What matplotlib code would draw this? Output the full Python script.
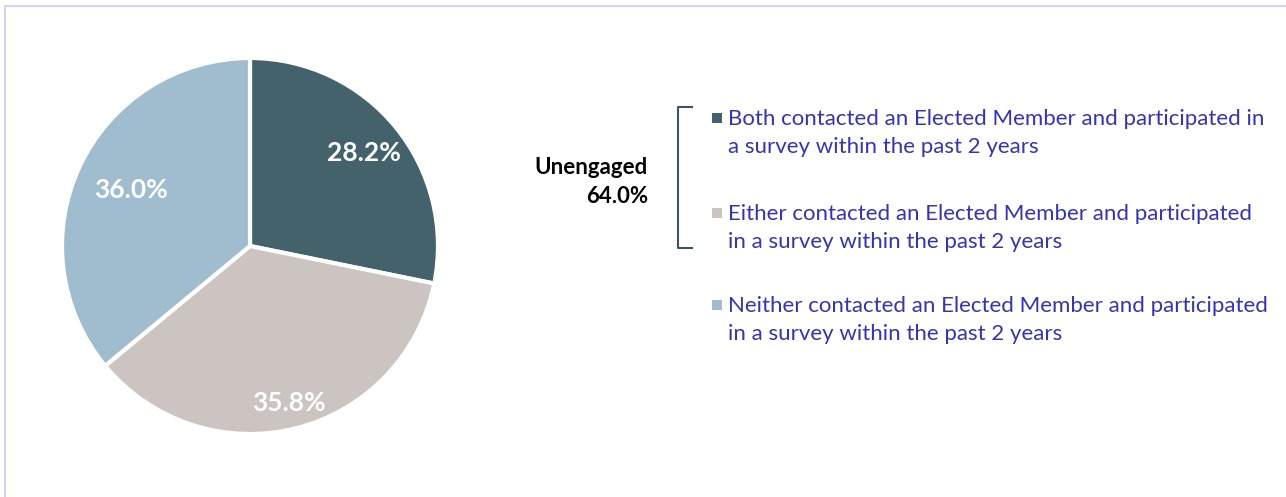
import numpy as np
import matplotlib
matplotlib.use("Agg")
import matplotlib.pyplot as plt

# data
labels = [
    "Both contacted an Elected Member and participated in\na survey within the past 2 years",
    "Either contacted an Elected Member and participated\nin a survey within the past 2 years",
    "Neither contacted an Elected Member and participated\nin a survey within the past 2 years",
]
shares = [28.2, 35.8, 36.0]
colors = ["#44626b", "#cbc4c1", "#a0bdd0"]
group_name = "Unengaged"
group_share = 64.0

plt.rcParams['font.family'] = ['Lato', 'DejaVu Sans']

W, H = 1286, 497
fig = plt.figure(figsize=(W / 100, H / 100), dpi=100)

# pie axes, centre (250, 246) px, radius 188 px
cx, cy, r = 250, 246, 188
ax = fig.add_axes([(cx - r) / W, (H - cy - r) / H, 2 * r / W, 2 * r / H])
wedges, _ = ax.pie(shares, colors=colors, startangle=90, counterclock=False,
                   wedgeprops=dict(edgecolor="white", linewidth=3))
ax.set_xlim(-1, 1)
ax.set_ylim(-1, 1)
ax.set_aspect("equal")
ax.axis("off")

# percent labels at different radii, like the original
label_r = [0.78, 0.86, 0.70]
for w, s, lr in zip(wedges, shares, label_r):
    ang = np.deg2rad((w.theta1 + w.theta2) / 2)
    ax.text(lr * np.cos(ang), lr * np.sin(ang), f"{s:.1f}%", ha="center", va="center",
            color="white", fontsize=19, fontweight="bold")

# overlay in pixel coords for legend, bracket and frame
ov = fig.add_axes([0, 0, 1, 1], zorder=-1)
ov.set_xlim(0, W)
ov.set_ylim(H, 0)
ov.axis("off")
ov.patch.set_alpha(0)

# light frame (top and left only)
ov.plot([5, 5, W], [H, 6, 6], color="#d4d4f4", lw=1.5, solid_joinstyle="miter")

text_y = [133, 228, 320]
for c, lab, y in zip(colors, labels, text_y):
    ov.scatter([716.5], [y - 15], marker="s", s=45, color=c, linewidths=0)
    ov.text(728, y, lab, ha="left", va="center", color="#3434b4", fontsize=16,
            linespacing=1.45)

# bracket around the first two items
ov.plot([692, 678, 678, 692], [107, 107, 248, 248], color="#3d5560", lw=1.5)

ov.text(648, 182, f"{group_name}\n{group_share:.1f}%", ha="right", va="center",
        fontsize=16, fontweight="bold", color="black", linespacing=1.45)

fig.savefig("out.png", dpi=100)
